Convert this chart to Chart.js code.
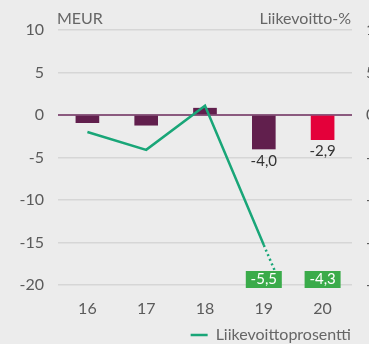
<!DOCTYPE html>
<html lang="fi">
<head>
<meta charset="UTF-8">
<title>Liikevoitto</title>
<script src="https://cdn.jsdelivr.net/npm/chart.js"></script>
<style>
  html, body { margin: 0; padding: 0; background: #ececec; overflow: hidden; }
  canvas { display: block; }
</style>
</head>
<body>
<canvas id="chart" width="369" height="344"></canvas>
<script>
// years on the x axis
const years = ['16', '17', '18', '19', '20'];
// operating profit, MEUR
const operatingProfit = [-0.9, -1.2, 0.8, -4.0, -2.9];
// operating margin line (solid part) and its dotted continuation
const profitPct = [-2.0, -4.1, 1.1, -15.3, null];
const profitPctTail = [null, null, null, -15.3, -31.5];
// bars that get a value label under them
const labelledBars = [3, 4];
// operating margin values shown in the green boxes
const pctBoxes = [null, null, null, -5.5, -4.3];
const yTicks = [10, 5, 0, -5, -10, -15, -20];

const purple = '#611f4d';
const red = '#e4003a';
const lineGreen = '#19a678';
const boxGreen = '#3aab4a';
const textGray = '#5b5b5b';
const font = 'Lato, "Open Sans", sans-serif';

const fmt = v => v.toFixed(1).replace('.', ',');

const extras = {
    id: 'extras',
    afterDatasetsDraw(chart) {
        const ctx = chart.ctx;
        const area = chart.chartArea;
        const x = chart.scales.x;
        ctx.save();

        // axis captions
        ctx.font = '16px ' + font;
        ctx.fillStyle = '#666';
        ctx.textBaseline = 'alphabetic';
        ctx.textAlign = 'left';
        ctx.fillText('MEUR', area.left - 1, 24);
        ctx.textAlign = 'right';
        ctx.fillText('Liikevoitto-%', area.right - 1, 24);

        // value labels under the bars
        const meta = chart.getDatasetMeta(0);
        ctx.font = '15px ' + font;
        ctx.fillStyle = '#333';
        ctx.textAlign = 'center';
        ctx.textBaseline = 'middle';
        labelledBars.forEach(i => {
            const bar = meta.data[i];
            ctx.fillText(fmt(operatingProfit[i]), bar.x, bar.y + 12);
        });

        // green margin boxes along the bottom
        pctBoxes.forEach((v, i) => {
            if (v === null) return;
            const cx = x.getPixelForValue(i);
            const w = 36, h = 17;
            ctx.fillStyle = boxGreen;
            ctx.fillRect(cx - w / 2, area.bottom + 3 - h, w, h);
            ctx.fillStyle = '#fff';
            ctx.fillText(fmt(v), cx, area.bottom + 3 - h / 2);
        });
        ctx.restore();
    }
};

new Chart(document.getElementById('chart'), {
    data: {
        labels: years,
        datasets: [
            {
                type: 'bar',
                label: 'Liikevoitto',
                data: operatingProfit,
                backgroundColor: operatingProfit.map((v, i) => i === years.length - 1 ? red : purple),
                barThickness: 23,
                yAxisID: 'y',
                order: 2
            },
            {
                type: 'line',
                label: 'Liikevoittoprosentti',
                data: profitPct,
                borderColor: lineGreen,
                backgroundColor: lineGreen,
                borderWidth: 2.5,
                pointRadius: 0,
                tension: 0,
                yAxisID: 'y',
                order: 1
            },
            {
                type: 'line',
                label: 'tail',
                data: profitPctTail,
                borderColor: lineGreen,
                borderWidth: 2.5,
                borderDash: [2, 3],
                pointRadius: 0,
                yAxisID: 'y',
                order: 1
            }
        ]
    },
    options: {
        responsive: false,
        animation: false,
        layout: { padding: { top: 30, right: 0, bottom: -9, left: 0 } },
        plugins: {
            tooltip: { enabled: false },
            legend: {
                position: 'bottom',
                align: 'end',
                fullSize: false,
                labels: {
                    filter: item => item.text === 'Liikevoittoprosentti',
                    usePointStyle: true,
                    pointStyleWidth: 17,
                    pointStyle: 'line',
                    padding: 1,
                    color: '#666',
                    font: { family: font, size: 16 }
                }
            }
        },
        scales: {
            x: {
                grid: { display: false },
                border: { display: false },
                ticks: { color: textGray, font: { family: font, size: 16 }, padding: 6 },
                afterFit: s => { s.height = 41; }
            },
            y: {
                position: 'left',
                min: -20,
                max: 10,
                afterBuildTicks: s => { s.ticks = yTicks.map(v => ({ value: v })); },
                grid: {
                    drawTicks: false,
                    color: c => c.tick && c.tick.value === 0 ? '#8b5a7f' : '#d6d6d6',
                    lineWidth: c => c.tick && c.tick.value === 0 ? 2 : 1.5
                },
                border: { display: false },
                ticks: { color: textGray, font: { family: font, size: 16 }, padding: 14 },
                afterFit: s => { s.width = 58; }
            },
            y2: {
                position: 'right',
                min: -20,
                max: 10,
                afterBuildTicks: s => { s.ticks = yTicks.map(v => ({ value: v })); },
                grid: { display: false },
                border: { display: false },
                ticks: { color: textGray, font: { family: font, size: 16 }, padding: 6 },
                afterFit: s => { s.width = 17; }
            }
        }
    },
    plugins: [extras]
});
</script>
</body>
</html>
